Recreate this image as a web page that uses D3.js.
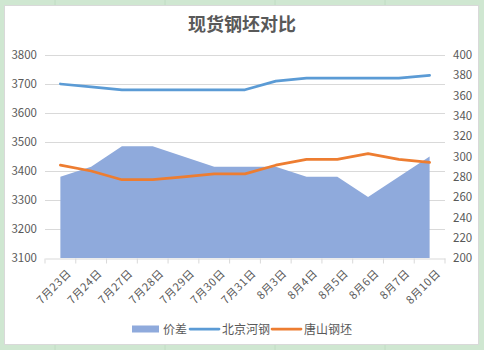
<!DOCTYPE html>
<html>
<head>
<meta charset="utf-8">
<script src="https://cdn.jsdelivr.net/npm/d3@7"></script>
<style>
  html, body { margin: 0; padding: 0; background: #cfe7d1; }
  svg { display: block; }
</style>
</head>
<body>
<svg id="chart" width="484" height="350"></svg>
<script>
// Dates on the category axis
const dates = ["7月23日", "7月24日", "7月27日", "7月28日", "7月29日", "7月30日", "7月31日",
               "8月3日", "8月4日", "8月5日", "8月6日", "8月7日", "8月10日"];
// 北京河钢 price (left axis)
const beijing = [3700, 3690, 3680, 3680, 3680, 3680, 3680, 3710, 3720, 3720, 3720, 3720, 3730];
// 唐山钢坯 price (left axis)
const tangshan = [3420, 3400, 3370, 3370, 3380, 3390, 3390, 3420, 3440, 3440, 3460, 3440, 3430];
// 价差 spread (right axis)
const spread = [280, 290, 310, 310, 300, 290, 290, 290, 280, 280, 260, 280, 300];
// Axis ticks
const leftTicks = [3100, 3200, 3300, 3400, 3500, 3600, 3700, 3800];
const rightTicks = [200, 220, 240, 260, 280, 300, 320, 340, 360, 380, 400];

const svg = d3.select("#chart");
const font = "'Microsoft YaHei', 'Noto Sans CJK SC', sans-serif";
const textColor = "#595959";

// Cell grid in the sheet behind the chart
const bg = svg.append("g");
[55, 165, 275, 385].forEach(x => bg.append("line").attr("x1", x).attr("x2", x).attr("y1", 0).attr("y2", 350)
  .attr("stroke", "#c0dcc3").attr("stroke-width", 1));
// Chart area
svg.append("rect").attr("x", 4.5).attr("y", 5.5).attr("width", 474).attr("height", 339)
  .attr("fill", "#ffffff").attr("stroke", "#d9d9d9");

const plot = { left: 45, right: 445, top: 55, bottom: 258 };

const x = d3.scaleBand().domain(dates).range([plot.left, plot.right]).padding(0);
const cx = d => x(d) + x.bandwidth() / 2;
const yL = d3.scaleLinear().domain([3100, 3800]).range([plot.bottom, plot.top]);
const yR = d3.scaleLinear().domain([200, 400]).range([plot.bottom, plot.top]);

// Horizontal gridlines
svg.append("g").selectAll("line").data(leftTicks.slice(1)).join("line")
  .attr("x1", plot.left).attr("x2", plot.right)
  .attr("y1", d => Math.round(yL(d)) + 0.5).attr("y2", d => Math.round(yL(d)) + 0.5)
  .attr("stroke", "#d9d9d9").attr("stroke-width", 1);

// Spread area on the right axis
const area = d3.area()
  .x((d, i) => cx(dates[i]))
  .y0(yR(200))
  .y1(d => yR(d));
svg.append("path").datum(spread).attr("d", area).attr("fill", "#8faadc");

// Price lines on the left axis
const line = d3.line().x((d, i) => cx(dates[i])).y(d => yL(d));
svg.append("path").datum(beijing).attr("d", line)
  .attr("fill", "none").attr("stroke", "#5b9bd5").attr("stroke-width", 2.75)
  .attr("stroke-linejoin", "round").attr("stroke-linecap", "round");
svg.append("path").datum(tangshan).attr("d", line)
  .attr("fill", "none").attr("stroke", "#ed7d31").attr("stroke-width", 2.75)
  .attr("stroke-linejoin", "round").attr("stroke-linecap", "round");

// Bottom category axis
const xAxis = d3.axisBottom(x).tickSize(5).tickSizeOuter(0);
const gx = svg.append("g").attr("transform", `translate(0,${plot.bottom + 0.5})`).call(xAxis);
gx.select(".domain").attr("stroke", "#d9d9d9");
// Ticks sit on band boundaries
gx.selectAll(".tick line").attr("stroke", "#d9d9d9").attr("transform", `translate(${-x.bandwidth() / 2},0)`);
gx.append("line").attr("x1", plot.right).attr("x2", plot.right).attr("y1", 0).attr("y2", 5).attr("stroke", "#d9d9d9");
gx.selectAll(".tick text")
  .attr("fill", textColor).attr("font-family", font).attr("font-size", 11)
  .attr("letter-spacing", 0.6)
  .attr("text-anchor", "end")
  .attr("dx", 0).attr("dy", 0)
  .attr("transform", "translate(6,10) rotate(-45)");

// Left value axis
const gl = svg.append("g").attr("transform", `translate(${plot.left},0)`)
  .call(d3.axisLeft(yL).tickValues(leftTicks).tickSize(0).tickPadding(8).tickFormat(d3.format("d")));
gl.select(".domain").remove();
gl.selectAll(".tick text").attr("fill", textColor).attr("font-family", font).attr("font-size", 11.5)
  .attr("text-anchor", "end").attr("x", -8);

// Right value axis
const gr = svg.append("g").attr("transform", `translate(${plot.right},0)`)
  .call(d3.axisRight(yR).tickValues(rightTicks).tickSize(0).tickPadding(8).tickFormat(d3.format("d")));
gr.select(".domain").remove();
gr.selectAll(".tick text").attr("fill", textColor).attr("font-family", font).attr("font-size", 11.5);

// Title
svg.append("text").attr("x", 242).attr("y", 31).attr("text-anchor", "middle")
  .attr("font-family", font).attr("font-weight", "bold").attr("font-size", 18)
  .attr("fill", textColor).text("现货钢坯对比");

// Legend
const legend = svg.append("g").attr("font-family", font).attr("font-size", 12).attr("fill", textColor);
const legendItems = [
  { name: "价差", kind: "area", color: "#8faadc", x: 132 },
  { name: "北京河钢", kind: "line", color: "#5b9bd5", x: 190 },
  { name: "唐山钢坯", kind: "line", color: "#ed7d31", x: 272 }
];
const ly = 329;
legendItems.forEach(it => {
  if (it.kind === "area") {
    legend.append("rect").attr("x", it.x).attr("y", ly - 3.5).attr("width", 27).attr("height", 7).attr("fill", it.color);
    legend.append("text").attr("x", it.x + 31).attr("y", ly + 4.5).text(it.name);
  } else {
    legend.append("line").attr("x1", it.x).attr("x2", it.x + 29).attr("y1", ly).attr("y2", ly)
      .attr("stroke", it.color).attr("stroke-width", 2.75).attr("stroke-linecap", "round");
    legend.append("text").attr("x", it.x + 32).attr("y", ly + 4.5).text(it.name);
  }
});
</script>
</body>
</html>
